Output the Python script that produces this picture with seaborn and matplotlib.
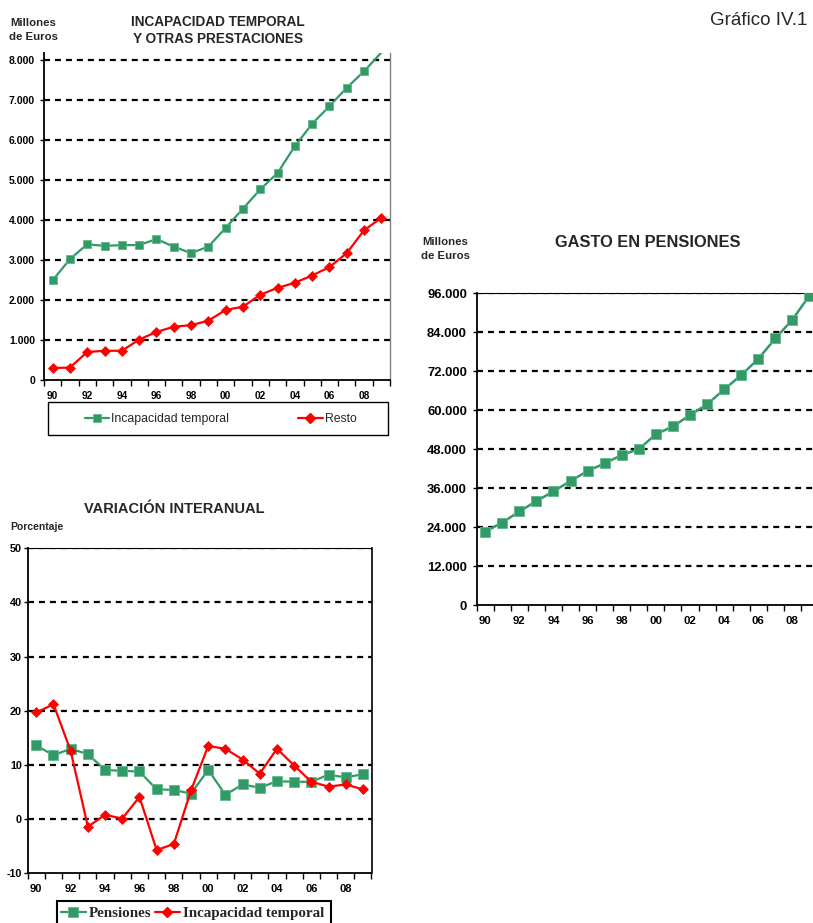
import matplotlib
matplotlib.use('Agg')
import matplotlib.pyplot as plt
import seaborn as sns
from matplotlib.ticker import FuncFormatter
from matplotlib.lines import Line2D
from matplotlib.patches import Rectangle

# ---------------- data ----------------
years = [1990, 1991, 1992, 1993, 1994, 1995, 1996, 1997, 1998, 1999,
         2000, 2001, 2002, 2003, 2004, 2005, 2006, 2007, 2008, 2009]
tick_years = [1990, 1992, 1994, 1996, 1998, 2000, 2002, 2004, 2006, 2008]
tick_labels = ["90", "92", "94", "96", "98", "00", "02", "04", "06", "08"]

# Millones de euros
it_amount = [2490, 3020, 3390, 3350, 3370, 3370, 3520, 3330, 3170, 3330,
             3800, 4280, 4760, 5170, 5840, 6400, 6840, 7300, 7710, 8180]
resto_amount = [300, 310, 700, 730, 730, 1010, 1200, 1330, 1370, 1480,
                1750, 1830, 2130, 2300, 2430, 2610, 2820, 3170, 3740, 4050]
pension_amount = [22600, 25400, 28800, 32000, 35000, 38200, 41300, 43600, 46200, 48000,
                  52600, 55000, 58500, 61800, 66400, 70800, 75800, 82100, 87900, 95300]
# Porcentaje
pension_var = [13.6, 11.8, 13.0, 12.0, 9.1, 8.9, 8.8, 5.5, 5.4, 4.7,
               9.1, 4.5, 6.4, 5.8, 7.0, 6.9, 6.9, 8.2, 7.7, 8.3]
it_var = [19.7, 21.2, 12.6, -1.4, 0.8, 0.1, 4.1, -5.7, -4.6, 5.3,
          13.5, 13.0, 11.0, 8.4, 13.0, 9.9, 6.9, 6.0, 6.4, 5.5]

yticks_it = [0, 1000, 2000, 3000, 4000, 5000, 6000, 7000, 8000]
yticks_pen = [0, 12000, 24000, 36000, 48000, 60000, 72000, 84000, 96000]
yticks_var = [-10, 0, 10, 20, 30, 40, 50]

# ---------------- style ----------------
sns.set_style('white')
plt.rcParams['font.family'] = ['Liberation Sans', 'DejaVu Sans']
plt.rcParams['lines.scale_dashes'] = False
plt.rcParams['axes.unicode_minus'] = False

GREEN = '#339966'
GREEN_EDGE = '#5db88a'
RED = '#ff0000'

W, H = 813, 923
fig = plt.figure(figsize=(W / 100, H / 100), dpi=100)
fig.patch.set_facecolor('white')


def rect(l, t, r, b):
    return [l / W, 1 - b / H, (r - l) / W, (b - t) / H]


def thousands(v, pos):
    return f"{int(round(v)):,}".replace(",", ".")


def style(ax, yticks, ylim, yfs, xfs, ypad, xpad, fmt=None):
    ax.set_facecolor('white')
    ax.set_xlim(1989.5, 2009.5)
    ax.set_ylim(*ylim)
    ax.set_xticks(tick_years)
    ax.set_xticklabels(tick_labels)
    ax.set_xticks([y - 0.5 for y in years] + [2009.5], minor=True)
    ax.tick_params(axis='x', which='major', length=0, pad=xpad, labelsize=xfs)
    ax.tick_params(axis='x', which='minor', length=4, width=1, direction='out',
                   color='black', bottom=True)
    ax.set_yticks(yticks)
    if fmt is not None:
        ax.yaxis.set_major_formatter(FuncFormatter(fmt))
    ax.tick_params(axis='y', length=3, width=1, direction='out', color='black',
                   pad=ypad, labelsize=yfs, left=True)
    for lab in ax.get_xticklabels() + ax.get_yticklabels():
        lab.set_fontweight('bold')
        lab.set_color('black')
    for yv in yticks:
        if yv > ylim[0]:
            ax.axhline(yv, color='black', lw=1.6, linestyle=(0, (4.3, 3.6)), zorder=1)
    ax.spines['left'].set_color('black')
    ax.spines['left'].set_linewidth(1.3)
    ax.spines['bottom'].set_color('black')
    ax.spines['bottom'].set_linewidth(1.3)
    ax.set_xlabel('')
    ax.set_ylabel('')


# ---------------- chart 1: IT y otras prestaciones ----------------
ax1 = fig.add_axes(rect(44, 52.5, 390, 380))
sns.lineplot(x=years, y=it_amount, ax=ax1, color=GREEN, lw=1.6, marker='s',
             markersize=6.3, markeredgecolor=GREEN_EDGE, markeredgewidth=0.6,
             markevery=list(range(19)), zorder=3, legend=False)
sns.lineplot(x=years, y=resto_amount, ax=ax1, color=RED, lw=1.6, marker='D',
             markersize=5.2, markeredgecolor=RED, markeredgewidth=0.5, zorder=3, legend=False)
style(ax1, yticks_it, (0, 8180), 7.5, 7.3, 3.5, 8, thousands)
ax1.spines['top'].set_visible(False)
ax1.spines['right'].set_color('#808080')
ax1.spines['right'].set_linewidth(1)

fig.text(218 / W, 1 - 25.7 / H, 'INCAPACIDAD TEMPORAL', ha='center', va='baseline',
         fontsize=9.8, fontweight='bold')
fig.text(218 / W, 1 - 43.3 / H, 'Y OTRAS PRESTACIONES', ha='center', va='baseline',
         fontsize=9.8, fontweight='bold')
fig.text(10 / W, 1 - 26 / H, 'Millones', ha='left', va='baseline', fontsize=8.2, fontweight='bold')
fig.text(9 / W, 1 - 39.5 / H, 'de Euros', ha='left', va='baseline', fontsize=8.2, fontweight='bold')

fig.patches.append(Rectangle((48 / W, 1 - 435 / H), 340 / W, 33 / H, transform=fig.transFigure,
                             fill=False, edgecolor='black', lw=1))
h1 = [Line2D([], [], color=GREEN, lw=1.6, marker='s', markersize=6.3,
             markeredgecolor=GREEN_EDGE, markeredgewidth=0.6),
      Line2D([], [], color=RED, lw=1.6, marker='D', markersize=5.2, markeredgecolor=RED)]
fig.legend(h1, ['Incapacidad temporal', 'Resto'], loc='center',
           bbox_to_anchor=(220.5 / W, 1 - 419 / H), ncol=2, frameon=False,
           columnspacing=5.65, handlelength=2.0, handletextpad=0.16,
           prop={'family': 'Liberation Sans', 'size': 8.8})

# ---------------- chart 2: gasto en pensiones ----------------
ax2 = fig.add_axes(rect(476.7, 293.3, 818, 605))
sns.lineplot(x=years, y=pension_amount, ax=ax2, color=GREEN, lw=1.8, marker='s',
             markersize=7, markeredgecolor=GREEN_EDGE, markeredgewidth=0.6,
             zorder=3, legend=False)
style(ax2, yticks_pen, (0, 96000), 9.4, 8.2, 4, 8, thousands)
ax2.spines['top'].set_color('black')
ax2.spines['top'].set_linewidth(0.8)
ax2.spines['right'].set_visible(False)

fig.text(648 / W, 1 - 246.7 / H, 'GASTO EN PENSIONES', ha='center', va='baseline',
         fontsize=11.8, fontweight='bold')
fig.text(422 / W, 1 - 245 / H, 'Millones', ha='left', va='baseline', fontsize=8.2, fontweight='bold')
fig.text(421 / W, 1 - 259.3 / H, 'de Euros', ha='left', va='baseline', fontsize=8.2, fontweight='bold')

# ---------------- chart 3: variación interanual ----------------
ax3 = fig.add_axes(rect(27.7, 548.3, 371.5, 873.3))
sns.lineplot(x=years, y=pension_var, ax=ax3, color=GREEN, lw=1.6, marker='s',
             markersize=6.5, markeredgecolor=GREEN_EDGE, markeredgewidth=0.6,
             zorder=3, legend=False)
sns.lineplot(x=years, y=it_var, ax=ax3, color=RED, lw=1.6, marker='D',
             markersize=5.5, markeredgecolor=RED, markeredgewidth=0.5, zorder=4, legend=False)
style(ax3, yticks_var, (-10, 50), 7.8, 8.0, 1.2, 8)
ax3.spines['top'].set_color('black')
ax3.spines['top'].set_linewidth(0.8)
ax3.spines['right'].set_color('black')
ax3.spines['right'].set_linewidth(1.2)

fig.text(174 / W, 1 - 513.3 / H, 'VARIACIÓN INTERANUAL', ha='center', va='baseline',
         fontsize=10.5, fontweight='bold')
fig.text(10 / W, 1 - 530 / H, 'Porcentaje', ha='left', va='baseline', fontsize=7.5, fontweight='bold')

fig.patches.append(Rectangle((57 / W, 1 - 940 / H), 274 / W, 39 / H, transform=fig.transFigure,
                             fill=False, edgecolor='black', lw=1.5))
h3 = [Line2D([], [], color=GREEN, lw=1.6, marker='s', markersize=6.5,
             markeredgecolor=GREEN_EDGE, markeredgewidth=0.6),
      Line2D([], [], color=RED, lw=1.6, marker='D', markersize=5.5, markeredgecolor=RED)]
fig.legend(h3, ['Pensiones', 'Incapacidad temporal'], loc='center',
           bbox_to_anchor=(192.5 / W, 1 - 913 / H), ncol=2, frameon=False,
           columnspacing=0.2, handlelength=1.7, handletextpad=0.2,
           prop={'family': 'Liberation Serif', 'size': 10.8, 'weight': 'bold'})

# ---------------- header ----------------
fig.text(807 / W, 1 - 25 / H, 'Gráfico IV.1', ha='right', va='baseline', fontsize=13.5)

fig.savefig('out.png', dpi=100, facecolor='white')
